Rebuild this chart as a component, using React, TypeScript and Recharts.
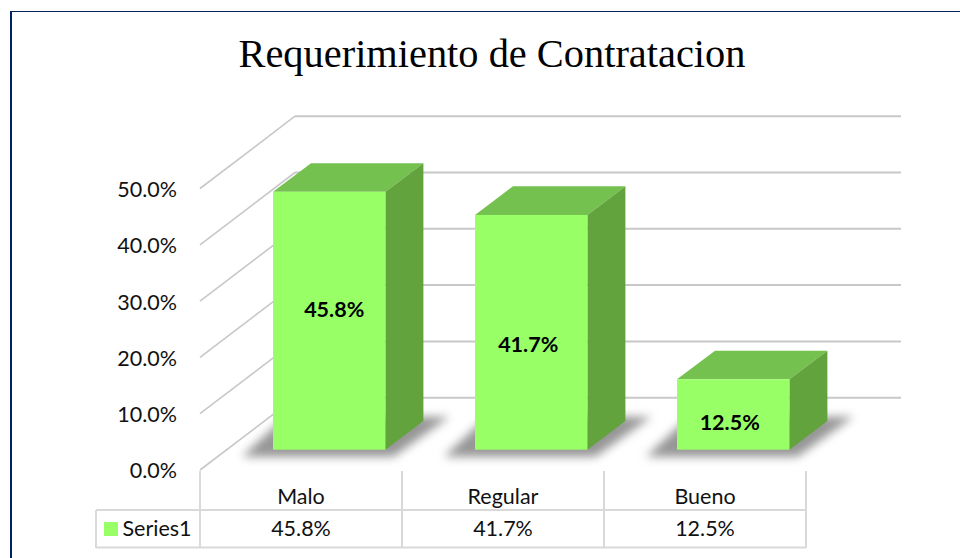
import React from "react";
import { BarChart, Bar, XAxis, YAxis, Legend, LabelList, CartesianGrid } from "recharts";

const categories = ["Malo", "Regular", "Bueno"];
const seriesValues = [45.8, 41.7, 12.5];
const valueTicks = [0, 10, 20, 30, 40, 50];
const seriesName = "Series1";
const chartTitle = "Requerimiento de Contratacion";

const rows = categories.map((name, i) => ({ name, [seriesName]: seriesValues[i] }));
const pct = (v: number) => `${v.toFixed(1)}%`;

const GRID = "#c8c8c8";
const TABLE = "#d9d9d9";
const FONT = "Lato, 'Open Sans', sans-serif";
const DEPTH_X = 38;
const DEPTH_Y = 28.7;
const labelNudge = [[5, -9], [-3, 14], [-3.5, 10]];

function GridRow({ y1 }: any) {
  const front = y1 + 20.3;
  const back = y1 - 52;
  return (
    <g>
      <line x1={200} y1={front} x2={295} y2={back} stroke={GRID} strokeWidth={1.6} />
      <line x1={295} y1={back} x2={901} y2={back} stroke={GRID} strokeWidth={2} />
    </g>
  );
}

function ValueTick({ y, payload }: any) {
  return (
    <text x={177} y={y + 23.3} textAnchor="end" dominantBaseline="middle" fontFamily={FONT} fontSize={21.5} fill="#111">
      {pct(payload.value)}
    </text>
  );
}

function CategoryTick({ x, payload, index }: any) {
  const left = x - 129;
  const right = left + 202;
  return (
    <g>
      <line x1={left} y1={471} x2={left} y2={548} stroke={TABLE} strokeWidth={2} />
      {index === categories.length - 1 && <line x1={right} y1={471} x2={right} y2={548} stroke={TABLE} strokeWidth={2} />}
      <text x={left + 101} y={499} textAnchor="middle" dominantBaseline="middle" fontFamily={FONT} fontSize={21.5} fill="#111">
        {payload.value}
      </text>
      <text x={left + 101} y={531} textAnchor="middle" dominantBaseline="middle" fontFamily={FONT} fontSize={21.5} fill="#111">
        {pct(seriesValues[index])}
      </text>
    </g>
  );
}

function Bar3D({ x, y, width, height }: any) {
  const b = y + height;
  const r = x + width;
  const pts = (a: number[][]) => a.map((p) => p.join(",")).join(" ");
  return (
    <g>
      <polygon
        points={pts([[x - 31, b + 7], [r + 8, b + 7], [r + 64, b - 33], [x + 12, b - 33]])}
        fill="#969696"
        style={{ filter: "blur(5px)" }}
      />
      <polygon points={pts([[x, y], [r, y], [r + DEPTH_X, y - DEPTH_Y], [x + DEPTH_X, y - DEPTH_Y]])} fill="#75c150" />
      <polygon points={pts([[r, y], [r + DEPTH_X, y - DEPTH_Y], [r + DEPTH_X, b - DEPTH_Y], [r, b]])} fill="#62a33d" />
      <rect x={x} y={y} width={width} height={height} fill="#99ff66" />
    </g>
  );
}

function BarValue({ x, y, width, height, value, index }: any) {
  const [dx, dy] = labelNudge[index];
  return (
    <text x={x + width / 2 + dx} y={y + height / 2 + dy} textAnchor="middle" dominantBaseline="middle" fontFamily={FONT} fontSize={21.5} fontWeight={700} fill="#000">
      {pct(value)}
    </text>
  );
}

export default function App() {
  return (
    <div style={{ position: "absolute", left: 0, top: 0, width: 960, height: 558, background: "#fff", overflow: "hidden" }}>
      <div style={{ position: "absolute", left: 9.5, top: 11, right: 0, bottom: 0, borderLeft: "2px solid #002060", borderTop: "1.5px solid #002060" }} />
      <div style={{ position: "absolute", left: 0, top: 0 }}>
        <BarChart width={960} height={558} data={rows} margin={{ left: 227, right: 126, top: 168.2, bottom: 107.3 }}>
          <text x={492} y={67} textAnchor="middle" fontFamily="'Liberation Serif', serif" fontSize={40.4} fill="#000">
            {chartTitle}
          </text>
          <line x1={96} y1={510} x2={806} y2={510} stroke={TABLE} strokeWidth={2} />
          <line x1={96} y1={547.5} x2={806} y2={547.5} stroke={TABLE} strokeWidth={2} />
          <line x1={96} y1={510} x2={96} y2={548} stroke={TABLE} strokeWidth={2} />
          <CartesianGrid vertical={false} syncWithTicks horizontal={(p: any) => <GridRow key={p.index} y1={p.y1} />} />
          <YAxis width={1} domain={[0, 50]} ticks={valueTicks} tick={<ValueTick />} axisLine={false} tickLine={false} interval={0} />
          <XAxis dataKey="name" height={1} tick={<CategoryTick />} axisLine={false} tickLine={false} interval={0} />
          <Legend
            iconType="square"
            iconSize={14}
            layout="horizontal"
            align="center"
            verticalAlign="middle"
            wrapperStyle={{ position: "absolute", left: 103, top: 512, width: 100, height: 28, textAlign: "left" }}
            formatter={(v: string) => <span style={{ color: "#111", fontFamily: FONT, fontSize: 21.5, position: "relative", top: 3 }}>{v}</span>}
          />
          <Bar dataKey={seriesName} barSize={112.4} fill="#99ff66" shape={<Bar3D />} isAnimationActive={false}>
            <LabelList dataKey={seriesName} content={<BarValue />} />
          </Bar>
        </BarChart>
      </div>
    </div>
  );
}
